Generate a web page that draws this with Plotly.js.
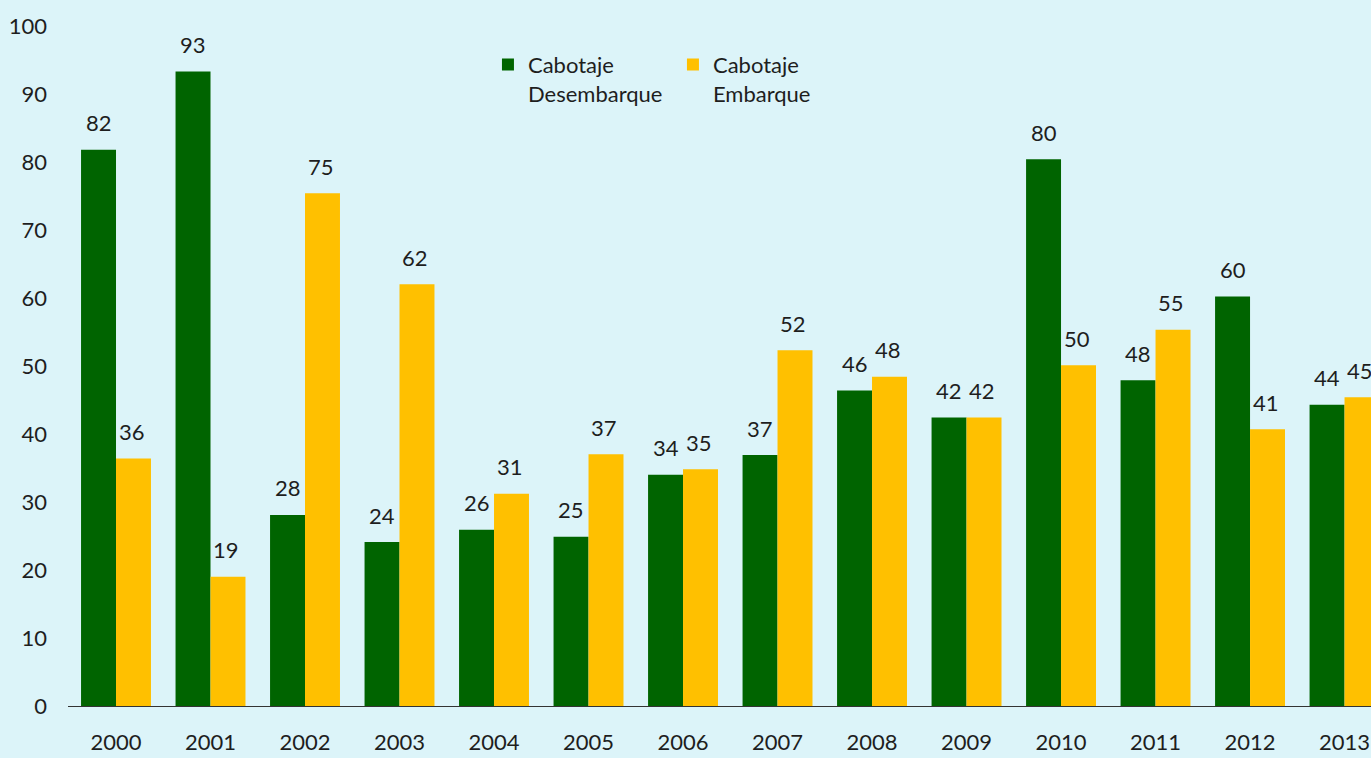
<!DOCTYPE html>
<html>
<head>
<meta charset="utf-8">
<script src="https://cdn.plot.ly/plotly-3.0.1.min.js"></script>
<style>html,body{margin:0;padding:0;background:#DCF4F9;}</style>
</head>
<body>
<div id="chart" style="width:1371px;height:758px;"></div>
<script>
const years = ["2000","2001","2002","2003","2004","2005","2006","2007","2008","2009","2010","2011","2012","2013"];
const desembarque = [81.8, 93.3, 28.1, 24.1, 25.9, 24.9, 34.0, 36.9, 46.4, 42.4, 80.4, 47.9, 60.2, 44.3];
const embarque = [36.4, 19.0, 75.4, 62.0, 31.2, 37.0, 34.8, 52.3, 48.4, 42.4, 50.1, 55.3, 40.7, 45.4];
const seriesNames = ["Cabotaje<br>Desembarque", "Cabotaje<br>Embarque"];
const colors = ["#006400", "#FFC000"];
const yTicks = [0,10,20,30,40,50,60,70,80,90,100];

const FONT = "Lato, 'Noto Sans', sans-serif";
const TXT = "#1e1e1e";
const FS = 22;

const traces = [
  {type:"bar", x: years, y: desembarque, name: seriesNames[0], marker:{color: colors[0]}, hoverinfo:"y"},
  {type:"bar", x: years, y: embarque, name: seriesNames[1], marker:{color: colors[1]}, hoverinfo:"y"}
];

const annotations = [];
[desembarque, embarque].forEach((arr, si) => {
  arr.forEach((v, i) => {
    annotations.push({
      x: i, y: v, xref:"x", yref:"y",
      text: String(Math.round(v)),
      showarrow:false, xanchor:"center", yanchor:"middle",
      xshift: si === 0 ? -17.5 : 15.5, yshift: 27,
      font:{family: FONT, size: FS, color: TXT}
    });
  });
});

const layout = {
  width:1371, height:758,
  margin:{l:68, r:0, t:0, b:52, pad:0},
  paper_bgcolor:"#DCF4F9", plot_bgcolor:"#DCF4F9",
  barmode:"group", bargap:0.26, bargroupgap:0,
  font:{family: FONT, size:FS, color: TXT},
  showlegend:true,
  legend:{orientation:"h", x:0.3223, y:0.938, xanchor:"left", yanchor:"top",
          valign:"top", bgcolor:"rgba(0,0,0,0)", font:{family:FONT, size:FS, color:TXT},
          entrywidth:140, traceorder:"normal"},
  xaxis:{type:"category", range:[-0.508, 13.28], showgrid:false, zeroline:false,
         showline:true, linecolor:"#333", linewidth:1.2, ticks:"", ticklabelstandoff:16,
         tickfont:{family:FONT, size:FS, color:TXT}, fixedrange:true},
  yaxis:{range:[0, 103.8], tickmode:"array", tickvals:yTicks,
         showgrid:false, zeroline:false, showline:false, ticks:"", ticklabelstandoff:20,
         tickfont:{family:FONT, size:FS, color:TXT}, fixedrange:true},
  annotations: annotations
};

Plotly.newPlot("chart", traces, layout, {displayModeBar:false, staticPlot:true});
</script>
</body>
</html>
